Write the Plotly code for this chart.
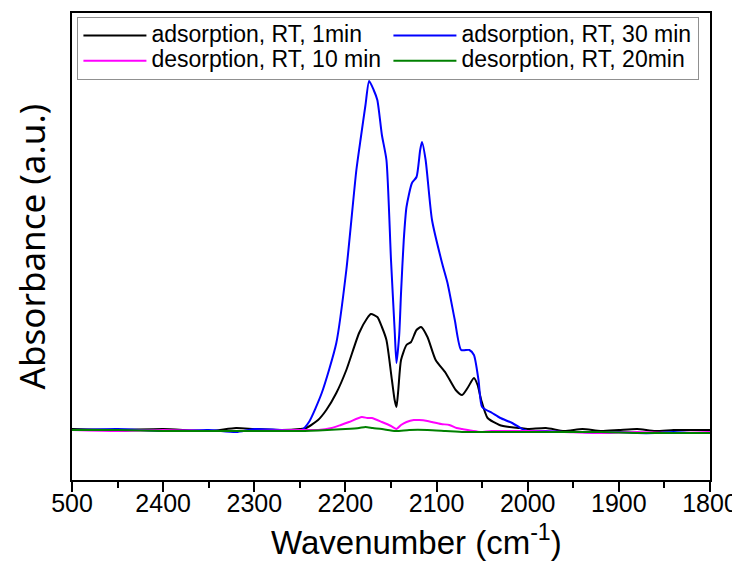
import plotly.graph_objects as go

# wavenumber (cm-1) / absorbance (a.u.)
wn_ads_1 = [2500, 2450, 2400, 2350, 2320, 2300, 2270, 2250, 2243, 2230, 2221, 2210, 2199,
            2185, 2176, 2172, 2165, 2160, 2155, 2149, 2146, 2144, 2142, 2139, 2133, 2128,
            2122, 2117, 2110, 2101, 2090, 2079, 2072, 2066, 2059, 2055, 2051, 2044, 2031,
            2020, 2009, 2000, 1980, 1960, 1940, 1920, 1900, 1880, 1860, 1840, 1820, 1800]
ab_ads_1 = [0.01, 0.00, 0.01, -0.01, 0.02, 0.01, 0.00, 0.01, 0.02, 0.10, 0.20, 0.37, 0.60,
            0.97, 1.12, 1.16, 1.13, 1.03, 0.90, 0.50, 0.30, 0.23, 0.40, 0.70, 0.85, 0.88,
            1.00, 1.03, 0.93, 0.70, 0.57, 0.40, 0.35, 0.42, 0.52, 0.45, 0.30, 0.12, 0.05,
            0.03, 0.02, 0.01, 0.02, -0.01, 0.01, -0.01, 0.00, 0.01, -0.01, 0.00, 0.00, 0.00]

wn_ads_30 = [2500, 2450, 2400, 2350, 2320, 2300, 2270, 2248, 2240, 2226, 2210, 2199, 2188,
             2183, 2178, 2174, 2169, 2165, 2160, 2155, 2150, 2146, 2144, 2141, 2139, 2136,
             2133, 2127, 2122, 2118, 2116, 2112, 2105, 2094, 2088, 2080, 2073, 2064, 2059,
             2054, 2050, 2039, 2030, 2017, 2004, 2000, 1980, 1960, 1940, 1920, 1900, 1880,
             1860, 1840, 1820, 1800]
ab_ads_30 = [0.00, 0.01, -0.01, 0.00, -0.02, 0.01, 0.00, 0.00, 0.08, 0.37, 0.87, 1.60, 2.60,
             2.93, 3.25, 3.49, 3.40, 3.30, 2.95, 2.70, 1.70, 1.00, 0.67, 0.95, 1.37, 1.90,
             2.23, 2.47, 2.53, 2.80, 2.88, 2.70, 2.10, 1.67, 1.47, 1.10, 0.80, 0.80, 0.75,
             0.50, 0.23, 0.17, 0.12, 0.07, 0.00, -0.01, -0.01, -0.02, -0.02, -0.03, -0.02,
             -0.03, -0.03, -0.02, -0.03, -0.03]

wn_des_10 = [2500, 2450, 2400, 2350, 2300, 2250, 2230, 2215, 2205, 2196, 2182, 2176, 2171,
             2160, 2150, 2144, 2139, 2133, 2125, 2119, 2110, 2105, 2095, 2086, 2078, 2072,
             2060, 2052, 2040, 2020, 2000, 1960, 1920, 1880, 1840, 1800]
ab_des_10 = [0.00, -0.01, 0.00, -0.01, -0.01, 0.00, 0.00, 0.02, 0.05, 0.08, 0.13, 0.12, 0.12,
             0.08, 0.04, 0.01, 0.05, 0.08, 0.10, 0.10, 0.09, 0.08, 0.06, 0.05, 0.02, 0.01,
             -0.01, -0.02, -0.01, -0.01, -0.01, -0.02, -0.03, -0.02, -0.03, -0.02]

wn_des_20 = [2500, 2450, 2400, 2350, 2300, 2250, 2220, 2200, 2185, 2178, 2170, 2160, 2145,
             2130, 2110, 2090, 2070, 2050, 2030, 2000, 1960, 1920, 1880, 1840, 1800]
ab_des_20 = [0.00, 0.00, -0.01, -0.01, -0.01, -0.01, 0.00, 0.01, 0.02, 0.03, 0.02, 0.01, -0.01,
             0.00, 0.00, -0.01, -0.02, -0.02, -0.02, -0.02, -0.02, -0.02, -0.03, -0.03, -0.03]

tick_vals = [2500, 2400, 2300, 2200, 2100, 2000, 1900, 1800]
tick_text = ["500", "2400", "2300", "2200", "2100", "2000", "1900", "1800"]

series = [
    ("adsorption, RT, 1min", wn_ads_1, ab_ads_1, "black"),
    ("adsorption, RT, 30 min", wn_ads_30, ab_ads_30, "#0000ff"),
    ("desorption, RT, 10 min", wn_des_10, ab_des_10, "#ff00ff"),
    ("desorption, RT, 20min", wn_des_20, ab_des_20, "#008000"),
]

fig = go.Figure()
for name, x, y, color in series:
    # legend rows are sized from legend.font, the label itself is drawn larger
    label = '<span style="font-size:23px">%s</span>' % name
    fig.add_trace(go.Scatter(x=x, y=y, mode="lines", name=label,
                             line={"color": color, "width": 2, "shape": "spline", "smoothing": 0.6}))

# page body adds an 8px margin, so the figure is 8px smaller than the window
fig.update_layout(
    width=732,
    height=555,
    paper_bgcolor="white",
    plot_bgcolor="white",
    margin={"l": 64, "r": 30, "t": 5, "b": 83, "autoexpand": False},
    font={"family": "Liberation Sans, Arial, sans-serif", "color": "black"},
    legend={
        "orientation": "h",
        "x": 0.0085,
        "y": 0.9914,
        "xanchor": "left",
        "yanchor": "top",
        "entrywidth": 232,
        "entrywidthmode": "pixels",
        "itemwidth": 63,
        "bordercolor": "#909090",
        "borderwidth": 1,
        "bgcolor": "white",
        "font": {"size": 17},
        "tracegroupgap": 0,
    },
    xaxis={
        "range": [2500, 1800],
        "tickvals": tick_vals,
        "ticktext": tick_text,
        "ticks": "outside",
        "ticklen": 10,
        "tickwidth": 2,
        "tickcolor": "black",
        "ticklabelstandoff": -10,
        "minor": {"dtick": 50, "ticks": "outside", "ticklen": 6, "tickwidth": 2, "tickcolor": "black"},
        "tickfont": {"size": 25},
        "showline": True,
        "linecolor": "black",
        "linewidth": 2,
        "mirror": True,
        "showgrid": False,
        "zeroline": False,
    },
    yaxis={
        "range": [-0.5, 4.17],
        "showticklabels": False,
        "ticks": "",
        "showline": True,
        "linecolor": "black",
        "linewidth": 2,
        "mirror": True,
        "showgrid": False,
        "zeroline": False,
        "title": {"text": "Absorbance (a.u.)", "font": {"family": "Noto Sans", "size": 35},
                  "standoff": 28},
    },
)

fig.add_annotation(
    text="Wavenumber (cm<sup>-1</sup>)",
    xref="paper", yref="paper",
    x=0.54, y=-0.128,
    xanchor="center", yanchor="middle",
    showarrow=False,
    font={"family": "Liberation Sans, Arial", "size": 33},
)

fig.write_html("out.html")
